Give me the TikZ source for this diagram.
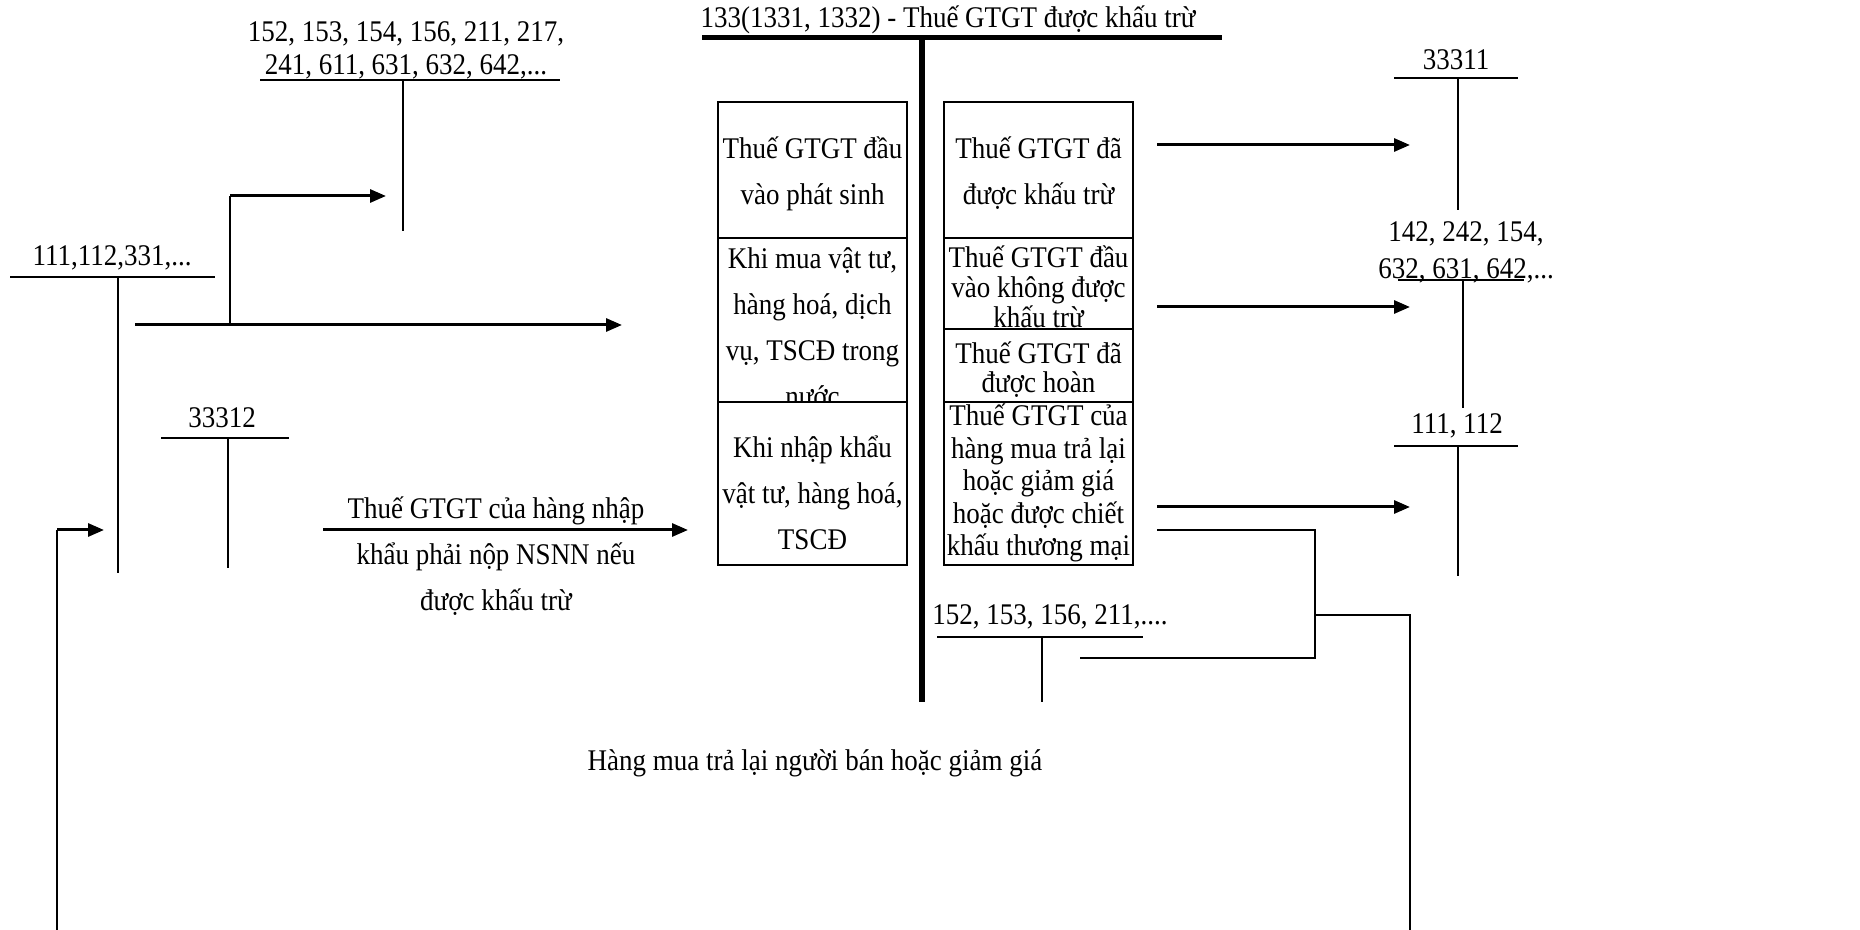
\documentclass[tikz,border=0pt]{standalone}
\usepackage{fontspec}
\setmainfont{Liberation Serif}[FakeStretch=0.9]
\usetikzlibrary{arrows.meta,calc}
\begin{document}
\begin{tikzpicture}[x=0.5pt,y=-0.5pt,
  txt/.style={inner sep=0pt, align=center, font=\fontsize{15pt}{23pt}\selectfont},
  box/.style={draw, line width=1pt, inner sep=0pt, minimum width=94.5pt},
  tline/.style={line width=1pt},
  arr/.style={line width=1.5pt, -{Triangle[length=8pt,width=6.5pt]}},
  link/.style={line width=1pt}]
\useasboundingbox (0,0) rectangle (1860,930);

% ---- central account 133
\node[txt] (title) at (948,20) {133(1331, 1332) - Thuế GTGT được khấu trừ};
\coordinate (tl) at (702,38); \coordinate (tr) at (1222,38);
\coordinate (ct) at (922,38); \coordinate (cb) at (922,702);
\draw[line width=2.5pt] (tl) -- (tr);
\draw[line width=3pt] (ct) -- (cb);

% ---- left boxes
\node[box, minimum height=68pt] (lb1) at (812.5,170) {};
\node[txt] (lb1t) at (812.5,173.5) {Thuế GTGT đầu\\vào phát sinh};
\node[box, minimum height=82pt] (lb2) at (812.5,320) {};
\node[txt] (lb2t) at (812.5,327) {Khi mua vật tư,\\hàng hoá, dịch\\vụ, TSCĐ trong\\nước};
\node[box, fill=white, minimum height=81.5pt] (lb3) at (812.5,483.5) {};
\node[txt] (lb3t) at (812.5,492.5) {Khi nhập khẩu\\vật tư, hàng hoá,\\TSCĐ};

% ---- right boxes
\node[box, minimum height=68pt] (rb1) at (1038.5,170) {};
\node[txt] (rb1t) at (1038.5,173.5) {Thuế GTGT đã\\được khấu trừ};
\node[box, minimum height=45.5pt] (rb2) at (1038.5,283.5) {};
\node[txt, font=\fontsize{15pt}{15pt}\selectfont] (rb2t) at (1038.5,287) {Thuế GTGT đầu\\vào không được\\khấu trừ};
\node[box, minimum height=36.5pt] (rb3) at (1038.5,365.5) {};
\node[txt, font=\fontsize{15pt}{14.5pt}\selectfont] (rb3t) at (1038.5,369.5) {Thuế GTGT đã\\được hoàn};
\node[box, minimum height=81.5pt] (rb4) at (1038.5,483.5) {};
\node[txt, font=\fontsize{15pt}{16.25pt}\selectfont] (rb4t) at (1038.5,483) {Thuế GTGT của\\hàng mua trả lại\\hoặc giảm giá\\hoặc được chiết\\khấu thương mại};

% ---- T-account 152, 153, 154 ... (top left)
\node[txt, font=\fontsize{15pt}{16.5pt}\selectfont] (a152) at (406,50) {152, 153, 154, 156, 211, 217,\\241, 611, 631, 632, 642,...};
\coordinate (a152l) at (260,80); \coordinate (a152r) at (560,80);
\coordinate (a152t) at (403,80); \coordinate (a152b) at (403,231);
\draw[tline] (a152l) -- (a152r) (a152t) -- (a152b);

% ---- T-account 111,112,331
\node[txt] (a111) at (112,258) {111,112,331,...};
\coordinate (a111l) at (10,277); \coordinate (a111r) at (215,277);
\coordinate (a111t) at (118,277); \coordinate (a111b) at (118,573);
\draw[tline] (a111l) -- (a111r) (a111t) -- (a111b);

% ---- T-account 33312
\node[txt] (a33312) at (222,418) {33312};
\coordinate (a33312l) at (161,438); \coordinate (a33312r) at (289,438);
\coordinate (a33312t) at (228,438); \coordinate (a33312b) at (228,568);
\draw[tline] (a33312l) -- (a33312r) (a33312t) -- (a33312b);

% ---- T-account 33311
\node[txt] (a33311) at (1456,60) {33311};
\coordinate (a33311l) at (1394,78); \coordinate (a33311r) at (1518,78);
\coordinate (a33311t) at (1458,78); \coordinate (a33311b) at (1458,210);
\draw[tline] (a33311l) -- (a33311r) (a33311t) -- (a33311b);

% ---- T-account 142, 242 ...
\node[txt, font=\fontsize{15pt}{18.5pt}\selectfont] (a142) at (1466,252) {142, 242, 154,\\632, 631, 642,...};
\coordinate (a142l) at (1398,280); \coordinate (a142r) at (1524,280);
\coordinate (a142t) at (1463,280); \coordinate (a142b) at (1463,408);
\draw[tline] (a142l) -- (a142r) (a142t) -- (a142b);

% ---- T-account 111, 112 (right)
\node[txt] (a111r) at (1457,426) {111, 112};
\coordinate (a111rl) at (1394,446); \coordinate (a111rr) at (1518,446);
\coordinate (a111rt) at (1458,446); \coordinate (a111rb) at (1458,576);
\draw[tline] (a111rl) -- (a111rr) (a111rt) -- (a111rb);

% ---- T-account 152, 153, 156, 211 (bottom)
\node[txt] (a152b2) at (1050,617) {152, 153, 156, 211,....};
\coordinate (a152b2l) at (937,637); \coordinate (a152b2r) at (1143,637);
\coordinate (a152b2t) at (1042,637); \coordinate (a152b2b) at (1042,702);
\draw[tline] (a152b2l) -- (a152b2r) (a152b2t) -- (a152b2b);

% ---- arrows on the left
\coordinate (p1s) at (135,325); \coordinate (p1e) at (622,325);
\coordinate (p1b) at (230,325); \coordinate (p1u) at (230,196); \coordinate (p1a) at (386,196);
\draw[arr] (p1s) -- (p1e);
\draw[link] (p1b) -- (p1u);
\draw[arr] (p1u) -- (p1a);

\coordinate (p2s) at (57,930); \coordinate (p2c) at (57,530); \coordinate (p2e) at (104,530);
\draw[link] (p2s) -- (p2c);
\draw[arr] (p2c) -- (p2e);

\coordinate (p3s) at (323,530); \coordinate (p3e) at (688,530);
\draw[arr] (p3s) -- (p3e);
\node[txt] (p3t) at (496,556) {Thuế GTGT của hàng nhập\\khẩu phải nộp NSNN nếu\\được khấu trừ};

% ---- arrows on the right
\coordinate (q1s) at (1157,145); \coordinate (q1e) at (1410,145);
\coordinate (q2s) at (1157,307); \coordinate (q2e) at (1410,307);
\coordinate (q3s) at (1157,507); \coordinate (q3e) at (1410,507);
\draw[arr] (q1s) -- (q1e);
\draw[arr] (q2s) -- (q2e);
\draw[arr] (q3s) -- (q3e);

% ---- return bracket
\coordinate (r1) at (1157,530); \coordinate (r2) at (1315,530);
\coordinate (r3) at (1315,658); \coordinate (r4) at (1080,658);
\coordinate (r5) at (1315,615); \coordinate (r6) at (1410,615); \coordinate (r7) at (1410,930);
\draw[link] (r1) -- (r2) -- (r3) -- (r4);
\draw[link] (r5) -- (r6) -- (r7);

\node[txt] (bottom) at (815,763) {Hàng mua trả lại người bán hoặc giảm giá};
\end{tikzpicture}
\end{document}
